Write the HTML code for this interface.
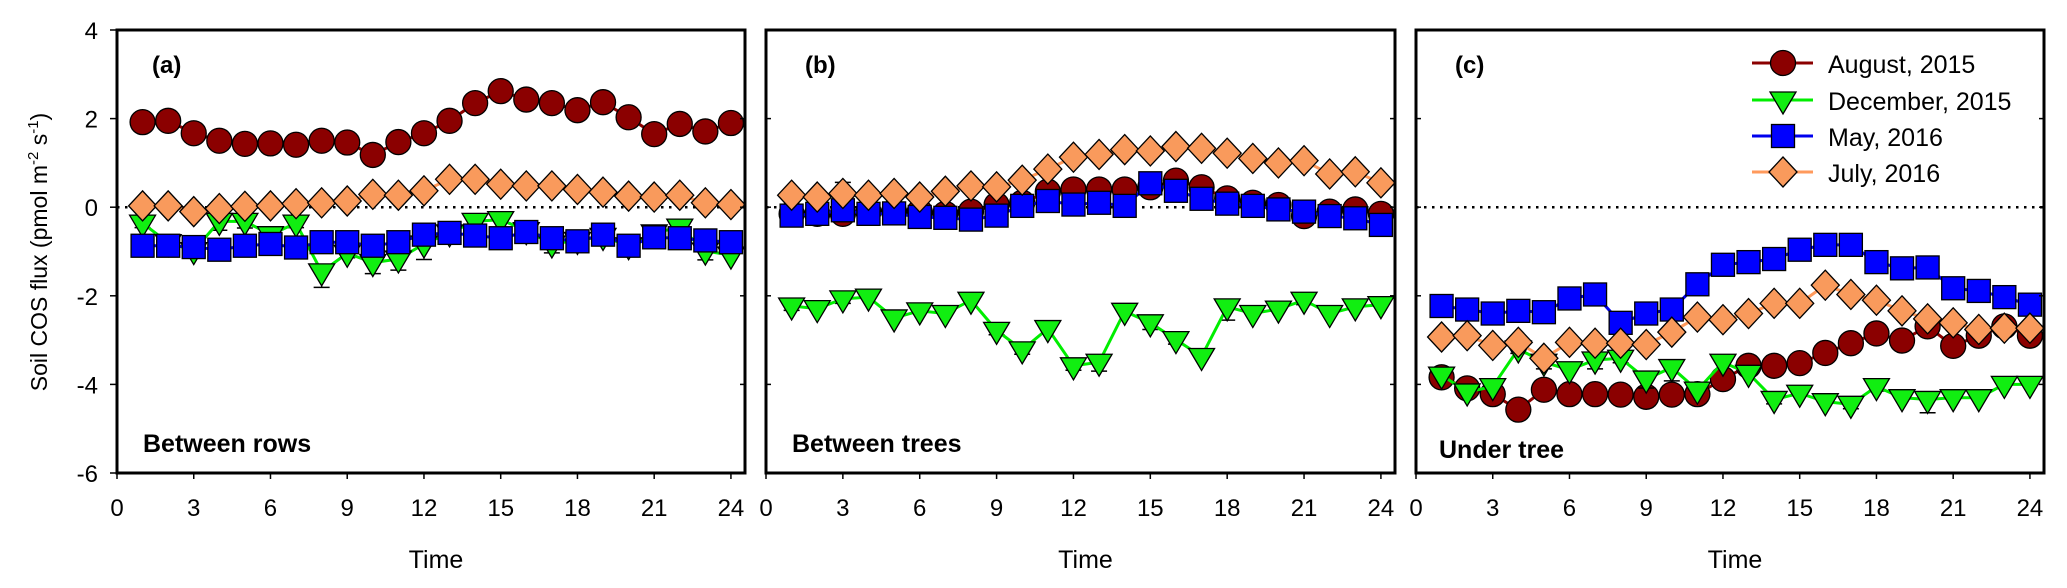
<!DOCTYPE html>
<html><head><meta charset="utf-8"><style>
html,body{margin:0;padding:0;background:#fff;}
svg{display:block;font-family:"Liberation Sans",Arial,sans-serif;}
</style></head><body>
<svg id="chart" width="2067" height="588" viewBox="0 0 2067 588" xmlns="http://www.w3.org/2000/svg">
<text transform="translate(47,252) rotate(-90)" text-anchor="middle" font-size="23">Soil COS flux (pmol m<tspan dy="-9" font-size="15">-2</tspan><tspan dy="9"> s</tspan><tspan dy="-9" font-size="15">-1</tspan><tspan dy="9">)</tspan></text>
</svg>
<script>
const hours=[1,2,3,4,5,6,7,8,9,10,11,12,13,14,15,16,17,18,19,20,21,22,23,24];
const yTicks=[4,2,0,-2,-4,-6];
const xTicks=[0,3,6,9,12,15,18,21,24];
const seriesNames=["August, 2015","December, 2015","May, 2016","July, 2016"];
const panelLabels=["(a)","(b)","(c)"];
const panelTitles=["Between rows","Between trees","Under tree"];
// Panel a
const augA=[1.92,1.95,1.67,1.5,1.43,1.44,1.41,1.5,1.46,1.18,1.47,1.67,1.95,2.35,2.62,2.43,2.35,2.19,2.37,2.03,1.65,1.88,1.71,1.9];
const decA=[-0.36,-0.8,-0.98,-0.32,-0.32,-0.62,-0.36,-1.46,-1.04,-1.25,-1.17,-0.83,-0.58,-0.32,-0.28,-0.53,-0.83,-0.75,-0.66,-0.87,-0.58,-0.45,-0.99,-1.08];
const mayA=[-0.87,-0.87,-0.9,-0.96,-0.87,-0.83,-0.91,-0.79,-0.79,-0.87,-0.79,-0.62,-0.58,-0.64,-0.7,-0.56,-0.7,-0.77,-0.62,-0.87,-0.68,-0.7,-0.75,-0.79];
const julA=[0.03,0.03,-0.1,-0.03,0.02,0.03,0.08,0.1,0.14,0.29,0.27,0.37,0.63,0.63,0.52,0.48,0.48,0.4,0.34,0.25,0.23,0.27,0.1,0.06];
// Panel b
const augB=[-0.15,-0.15,-0.15,-0.1,-0.1,-0.1,-0.15,-0.1,0.05,0.1,0.35,0.4,0.4,0.4,0.45,0.6,0.45,0.2,0.1,0.05,-0.2,-0.1,-0.05,-0.15];
const decB=[-2.23,-2.29,-2.07,-2.03,-2.5,-2.34,-2.4,-2.1,-2.78,-3.22,-2.74,-3.58,-3.5,-2.35,-2.61,-2.99,-3.37,-2.25,-2.4,-2.3,-2.1,-2.4,-2.25,-2.2];
const mayB=[-0.19,-0.15,-0.07,-0.15,-0.14,-0.22,-0.24,-0.28,-0.19,0.03,0.14,0.06,0.1,0.03,0.54,0.37,0.19,0.08,0.03,-0.05,-0.1,-0.2,-0.25,-0.4];
const julB=[0.27,0.23,0.31,0.27,0.31,0.23,0.36,0.48,0.46,0.61,0.86,1.13,1.19,1.3,1.27,1.37,1.33,1.22,1.1,1.0,1.05,0.75,0.8,0.55];
// Panel c
const augC=[-3.84,-4.09,-4.22,-4.57,-4.12,-4.22,-4.22,-4.23,-4.28,-4.23,-4.22,-3.88,-3.58,-3.58,-3.52,-3.29,-3.07,-2.85,-3.01,-2.69,-3.13,-2.9,-2.69,-2.9];
const decC=[-3.79,-4.17,-4.05,-3.2,-3.5,-3.67,-3.45,-3.41,-3.88,-3.62,-4.13,-3.5,-3.75,-4.34,-4.2,-4.39,-4.45,-4.05,-4.3,-4.34,-4.3,-4.3,-4.0,-4.0];
const mayC=[-2.23,-2.31,-2.4,-2.34,-2.37,-2.06,-1.97,-2.61,-2.4,-2.31,-1.74,-1.3,-1.24,-1.17,-0.96,-0.85,-0.85,-1.24,-1.38,-1.36,-1.83,-1.89,-2.03,-2.2];
const julC=[-2.93,-2.9,-3.12,-3.05,-3.41,-3.05,-3.07,-3.07,-3.1,-2.82,-2.48,-2.54,-2.4,-2.17,-2.17,-1.76,-1.97,-2.1,-2.34,-2.52,-2.61,-2.76,-2.73,-2.73];
// error bars (SE)
const errDecA=[0.1,0.05,0.1,0.2,0.15,0.1,0.1,0.35,0.1,0.25,0.25,0.35,0.05,0.05,0.05,0.05,0.2,0.05,0.05,0.05,0.05,0.2,0.2,0.05];
const errDecB=[0.1,0.05,0.1,0.05,0.05,0.05,0.05,0.05,0.1,0.1,0.05,0.1,0.2,0.05,0.15,0.1,0.05,0.3,0.05,0.05,0.1,0.05,0.05,0.05];
const errJulA=[0.05,0.05,0.12,0.15,0.15,0.05,0.05,0.05,0.05,0.05,0.05,0.05,0.05,0.05,0.05,0.05,0.05,0.05,0.05,0.05,0.05,0.05,0.05,0.12];
const errJulB=[0.1,0.05,0.25,0.05,0.1,0.05,0.1,0.05,0.05,0.05,0.05,0.05,0.05,0.05,0.05,0.05,0.05,0.05,0.05,0.05,0.05,0.05,0.05,0.05];
const errAugC=[0.05,0.05,0.15,0.15,0.1,0.05,0.15,0.05,0.1,0.15,0.05,0.05,0.05,0.05,0.05,0.05,0.05,0.05,0.05,0.05,0.05,0.05,0.05,0.05];
const errDecC=[0.05,0.05,0.05,0.1,0.15,0.05,0.2,0.1,0.2,0.3,0.05,0.05,0.05,0.1,0.05,0.05,0.1,0.1,0.05,0.3,0.05,0.05,0.05,0.05];

const panels=[
 {x0:117,x1:745,data:[augA,decA,mayA,julA],err:[null,errDecA,null,errJulA],left:true},
 {x0:766,x1:1395,data:[augB,decB,mayB,julB],err:[null,errDecB,null,errJulB],left:false},
 {x0:1416,x1:2044,data:[augC,decC,mayC,julC],err:[errAugC,errDecC,null,null],left:false}
];
const Y0=30,Y1=473,YMAX=4,YMIN=-6,XMAX=24.55;
const lineColors=["#8b0000","#00ee00","#0000ee","#ff9a5c"];
const fillColors=["#8b0000","#11ee11","#0000ff","#f99a5c"];
const kinds=["circle","tri","square","diamond"];
const NS="http://www.w3.org/2000/svg";
const svg=document.getElementById('chart');
function el(tag,attrs,parent){const e=document.createElementNS(NS,tag);for(const k in attrs)e.setAttribute(k,attrs[k]);(parent||svg).appendChild(e);return e;}
function yS(v){return Y0+(YMAX-v)/(YMAX-YMIN)*(Y1-Y0);}
function marker(kind,cx,cy,fill,g){
 let m;
 if(kind==="circle")m=el('ellipse',{cx:cx,cy:cy,rx:12.5,ry:12.5,fill:fill,stroke:'#000','stroke-width':1.3},g);
 else if(kind==="square")m=el('rect',{x:cx-11.5,y:cy-11.5,width:23,height:23,fill:fill,stroke:'#000','stroke-width':1.3},g);
 else if(kind==="diamond")m=el('polygon',{points:`${cx},${cy-15} ${cx+14},${cy} ${cx},${cy+15} ${cx-14},${cy}`,fill:fill,stroke:'#000','stroke-width':1.3},g);
 else m=el('polygon',{points:`${cx-13},${cy-8} ${cx+13},${cy-8} ${cx},${cy+14}`,fill:fill,stroke:'#000','stroke-width':1.3},g);
 return m;
}
panels.forEach((p,pi)=>{
 const xS=h=>p.x0+h/XMAX*(p.x1-p.x0);
 const g=el('g',{});
 
 
 const z=el('line',{x1:p.x0,x2:p.x1,y1:yS(0),y2:yS(0),stroke:'#000','stroke-width':2.5,'stroke-dasharray':'2.5,5.5'},g);
 
 
 p.data.forEach((vals,si)=>{
  const sg=el('g',{},g);
  
  
  const errs=p.err[si];
  if(errs){vals.forEach((v,i)=>{const e=errs[i];if(e>0.08){const x=xS(hours[i]);const yy=si===1?yS(v-e):yS(v+e);const yy2=yS(v);
   el('line',{x1:x,x2:x,y1:yy2,y2:yy,stroke:'#000','stroke-width':1.3},sg);
   el('line',{x1:x-8,x2:x+8,y1:yy,y2:yy,stroke:'#000','stroke-width':1.5},sg);}});}
  const pts=vals.map((v,i)=>xS(hours[i])+','+yS(v)).join(' ');
  const pl=el('polyline',{points:pts,fill:'none',stroke:lineColors[si],'stroke-width':3},sg);
  
  
  vals.forEach((v,i)=>{const m=marker(kinds[si],xS(hours[i]),yS(v),fillColors[si],sg);
   
   });
 });
 const fr=el('rect',{x:p.x0,y:Y0,width:p.x1-p.x0,height:Y1-Y0,fill:'none',stroke:'#000','stroke-width':3},g);
 
 
 yTicks.forEach(t=>{const y=yS(t);
  if(p.left){el('line',{x1:p.x0-7,x2:p.x0,y1:y,y2:y,stroke:'#000','stroke-width':1.5},g);
   const tx=el('text',{x:p.x0-19,y:y+9,'text-anchor':'end','font-size':24},g);tx.textContent=t;
   
   }
  else el('line',{x1:p.x0,x2:p.x0+5,y1:y,y2:y,stroke:'#000','stroke-width':1.5},g);
  el('line',{x1:p.x1-5,x2:p.x1,y1:y,y2:y,stroke:'#000','stroke-width':1.5},g);
 });
 xTicks.forEach(t=>{const x=xS(t);
  el('line',{x1:x,x2:x,y1:Y1,y2:Y1+6,stroke:'#000','stroke-width':1.5},g);
  const tx=el('text',{x:x,y:516,'text-anchor':'middle','font-size':24},g);tx.textContent=t;
  
  
 });
 const xt=el('text',{x:(p.x0+p.x1)/2+5,y:568,'text-anchor':'middle','font-size':25},g);xt.textContent='Time';
 
 
 const pl=el('text',{x:p.x0+[35,39,39][pi],y:73,'font-size':24,'font-weight':'bold'},g);pl.textContent=panelLabels[pi];
 
 
 const pt=el('text',{x:p.x0+[26,26,23][pi],y:[452,452,458][pi],'font-size':25,'font-weight':'bold'},g);pt.textContent=panelTitles[pi];
 
 
});
const lg=el('g',{});


const legendY=[63,100,136,172];
seriesNames.forEach((n,i)=>{const y=legendY[i];
 const eg=el('g',{},lg);
 
 
 el('line',{x1:1752,x2:1813,y1:y,y2:y,stroke:lineColors[i],'stroke-width':3},eg);
 marker(kinds[i],1783,y,fillColors[i],eg);
 const t=el('text',{x:1828,y:y+10,'font-size':25},eg);t.textContent=n;
});
</script>
</body></html>
